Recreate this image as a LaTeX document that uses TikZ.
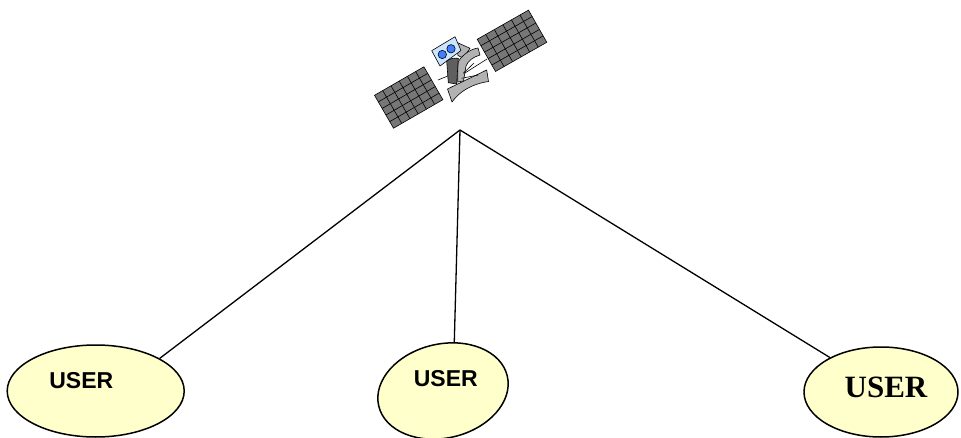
\documentclass[tikz,border=0pt]{standalone}
\usepackage{fontspec}
\newfontfamily\usersans{Liberation Sans}
\newfontfamily\userserif{Liberation Serif}
\usetikzlibrary{shapes.geometric}
\definecolor{userfill}{HTML}{FFFFCC}
\definecolor{panelgrey}{HTML}{777777}
\definecolor{boxblue}{HTML}{CCE5FF}
\definecolor{lensblue}{HTML}{3F7FFF}
\definecolor{darkpart}{HTML}{5F5F5F}
\definecolor{lightpart}{HTML}{B2B2B2}
\begin{document}
\begin{tikzpicture}[x=1pt,y=-1pt,
  user/.style={ellipse, draw, fill=userfill, line width=1.5pt, inner sep=0pt},
  link/.style={draw, line width=1.3pt},
  panelcell/.style={draw=black, line width=0.6pt},
  part/.style={draw=black, line width=0.6pt, line join=round},
  sanslabel/.style={font=\usersans\bfseries\fontsize{23}{25}\selectfont, inner sep=0pt},
  seriflabel/.style={font=\userserif\bfseries\fontsize{31}{33}\selectfont, inner sep=0pt}]
\useasboundingbox (0,0) rectangle (961,438);

% solar panels (6 x 5 cells)
\begin{scope}[shift={(408.7,97.5)}, rotate=30]
  \fill[panelgrey] (-28.5,-19) rectangle (28.5,19);
  \foreach \i in {1,...,5} \draw[panelcell] (-28.5+\i*9.5,-19) -- ++(0,38);
  \foreach \j in {1,...,4} \draw[panelcell] (-28.5,-19+\j*7.6) -- ++(57,0);
  \draw[panelcell] (-28.5,-19) rectangle (28.5,19);
\end{scope}
\begin{scope}[shift={(512,40.8)}, rotate=29.6]
  \fill[panelgrey] (-29.5,-18.5) rectangle (29.5,18.5);
  \foreach \i in {1,...,5} \draw[panelcell] (-29.5+\i*9.833,-18.5) -- ++(0,37);
  \foreach \j in {1,...,4} \draw[panelcell] (-29.5,-18.5+\j*7.4) -- ++(59,0);
  \draw[panelcell] (-29.5,-18.5) rectangle (29.5,18.5);
\end{scope}

% booms
\draw[part] (438,80) -- (449,75.5);
\draw[part] (465,73) -- (487,59);

% body
\draw[part, fill=lightpart] (447.5,89) -- (486.7,70) -- (488.5,81.5)
  .. controls (472,84) and (460,91) .. (452,102) -- cycle;
\draw[part, fill=lightpart] (456,42) -- (470,48.3) -- (463.3,58.3) -- (458,55.5) -- cycle;
\draw[part, fill=lightpart] (458,62) .. controls (463,54) and (471,49) .. (478,48)
  -- (480,55) .. controls (473,57) and (468,61) .. (466,66) -- (463.5,81) -- (457.7,82) -- cycle;
\draw[part] (463.3,73.3) -- (474,63);
\draw[part] (461.7,78.3) -- (478.3,75);
\draw[part, fill=boxblue] (431.7,50.7) -- (455,36.7) -- (461,50.5) -- (440,66) -- cycle;
\draw[part, fill=lensblue] (442.3,54.5) circle (4.2);
\draw[part, fill=lensblue] (451,48.8) circle (4.2);
\draw[part, fill=darkpart] (446.7,61) .. controls (450,58.5) and (454,57.8) .. (458.3,58.3)
  -- (456.7,84) -- (448.3,82.7) -- cycle;

\coordinate (sat) at (460,130);

% users
\node[user, minimum width=177pt, minimum height=92pt] (u1) at (95.7,391) {};
\node[user, minimum width=132pt, minimum height=94pt, rotate=13] (u2) at (443,391) {};
\node[user, minimum width=154pt, minimum height=90pt] (u3) at (881,392) {};

\node[sanslabel] (t1) at (81.3,381) {USER};
\node[sanslabel] (t2) at (445.8,378.3) {USER};
\node[seriflabel] (t3) at (886,387.5) {USER};

% links
\draw[link] (sat) -- (u1.27);
\draw[link] (sat) -- (u2.64);
\draw[link] (sat) -- (u3.146);
\end{tikzpicture}
\end{document}
